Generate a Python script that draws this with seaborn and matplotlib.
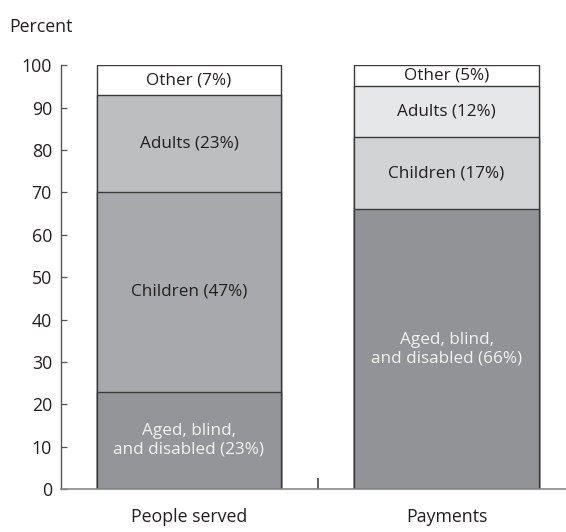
import matplotlib
matplotlib.use("Agg")
import matplotlib.pyplot as plt
import seaborn as sns
import numpy as np
import pandas as pd

groups = ["People served", "Payments"]
segments = ["Aged, blind,\nand disabled", "Children", "Adults", "Other"]
people_served = [23, 47, 23, 7]
payments = [66, 17, 12, 5]
yticks = [0, 10, 20, 30, 40, 50, 60, 70, 80, 90, 100]

colors_left = ["#939598", "#a7a9ac", "#bcbec0", "#ffffff"]
colors_right = ["#929396", "#d1d3d4", "#e6e7e8", "#ffffff"]
text_colors = ["#f2f2f2", "#231f20", "#231f20", "#231f20"]

sns.set_style("white")
plt.rcParams["font.family"] = ["Open Sans", "DejaVu Sans"]

fig = plt.figure(figsize=(5.66, 5.32), dpi=100)
ax = fig.add_axes([61 / 566, 43 / 532, (566 - 61) / 566, 423.7 / 532])

vals = np.array([people_served, payments], dtype=float)
cum = np.cumsum(vals, axis=1)

# draw from the top segment down so lower segments overlay
for k in range(len(segments) - 1, -1, -1):
    df = pd.DataFrame({"group": groups, "value": cum[:, k]})
    sns.barplot(data=df, x="group", y="value", hue="group",
                palette=[colors_left[k], colors_right[k]], legend=False,
                width=0.715, edgecolor="#3a3a3a", linewidth=1.0, ax=ax,
                saturation=1)

for i, g in enumerate(groups):
    for k, seg in enumerate(segments):
        lo = cum[i, k] - vals[i, k]
        mid = lo + vals[i, k] / 2
        ax.text(i, mid, f"{seg} ({int(vals[i, k])}%)", ha="center", va="center",
                fontsize=12.3, color=text_colors[k], linespacing=1.2)

ax.set_xlim(-0.497, 1.464)
ax.set_ylim(0, 100)
ax.set_yticks(yticks)
ax.set_yticklabels([str(t) for t in yticks], fontsize=12.8, color="#231f20")
ax.set_xticks([0.5])
ax.set_xticklabels([""])
ax.tick_params(axis="y", direction="in", length=4.5, width=0.9, color="#555555", pad=6.5, left=True)
ax.tick_params(axis="x", direction="in", length=8, width=1.2, color="#444444", bottom=True)
ax.set_xlabel("")
ax.set_ylabel("")
for s in ["top", "right"]:
    ax.spines[s].set_visible(False)
ax.spines["left"].set_color("#555555")
ax.spines["left"].set_linewidth(1.0)
ax.spines["bottom"].set_color("#888888")
ax.spines["bottom"].set_linewidth(1.2)

for i, g in enumerate(groups):
    ax.text(i, -6.7, g, ha="center", va="center", fontsize=12.8, color="#231f20",
            transform=ax.transData, clip_on=False)

fig.text(9 / 566, 1 - 27 / 532, "Percent", ha="left", va="center", fontsize=12.8, color="#231f20")

fig.savefig("out.png", dpi=100)
